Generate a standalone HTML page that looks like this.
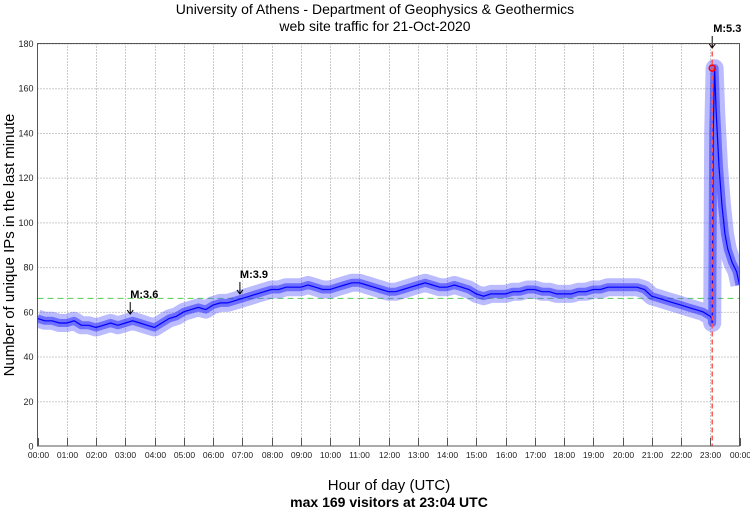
<!DOCTYPE html>
<html><head><meta charset="utf-8"><style>
body{margin:0;background:#fff;}
svg{display:block;font-family:"Liberation Sans",sans-serif;}
</style></head><body>
<svg id="chart" width="750" height="511">
<defs><clipPath id="plotclip"><rect x="37.5" y="43.5" width="702" height="402.5"/></clipPath></defs>
<text x="375" y="14" text-anchor="middle" font-size="14">University of Athens - Department of Geophysics &amp; Geothermics</text>
<text x="375" y="31" text-anchor="middle" font-size="14">web site traffic for 21-Oct-2020</text>
<text x="389" y="490" text-anchor="middle" font-size="15">Hour of day (UTC)</text>
<text x="389" y="507" text-anchor="middle" font-size="14" font-weight="bold">max 169 visitors at 23:04 UTC</text>
<text transform="translate(14,245) rotate(-90)" text-anchor="middle" font-size="15">Number of unique IPs in the last minute</text>
<g id="grid"></g><g id="series" clip-path="url(#plotclip)"></g><g id="marks"></g>
<rect x="37.5" y="43.5" width="702" height="402.5" fill="none" stroke="#555" stroke-width="1"/>
</svg>
<script>
const yTicks=[0,20,40,60,80,100,120,140,160,180];
const xTickLabels=["00:00","01:00","02:00","03:00","04:00","05:00","06:00","07:00","08:00","09:00","10:00","11:00","12:00","13:00","14:00","15:00","16:00","17:00","18:00","19:00","20:00","21:00","22:00","23:00","00:00"];
const times=[0,0.25,0.5,0.75,1,1.25,1.5,1.75,2,2.25,2.5,2.75,3,3.25,3.5,3.75,4,4.25,4.5,4.75,5,5.25,5.5,5.75,6,6.25,6.5,6.75,7,7.25,7.5,7.75,8,8.25,8.5,8.75,9,9.25,9.5,9.75,10,10.25,10.5,10.75,11,11.25,11.5,11.75,12,12.25,12.5,12.75,13,13.25,13.5,13.75,14,14.25,14.5,14.75,15,15.25,15.5,15.75,16,16.25,16.5,16.75,17,17.25,17.5,17.75,18,18.25,18.5,18.75,19,19.25,19.5,19.75,20,20.25,20.5,20.75,21,21.25,21.5,21.75,22,22.25,22.5,22.75,23,23.05,23.067,23.1,23.15,23.2,23.3,23.4,23.5,23.6,23.75,23.9,24];
const visitors=[57,56,56,55,55,56,54,54,53,54,55,54,55,56,55,54,53,55,57,58,60,61,62,61,63,64,64,65,66,67,68,69,70,70,71,71,71,72,71,70,70,71,72,73,73,72,71,70,69,69,70,71,72,73,72,71,71,72,71,70,68,67,68,68,68,69,69,70,70,69,69,68,68,68,69,69,70,70,71,71,71,71,71,70,67,66,65,64,63,62,61,60,58,57,55,140,169,150,125,108,95,88,82,78,72,68,65];
const threshold=66;
const events=[{t:3.17,label:"M:3.6",v:59},{t:6.92,label:"M:3.9",v:68},{t:23.067,label:"M:5.3",v:178}];
const maxTime=23.067,maxVal=169;
const ns="http://www.w3.org/2000/svg";
const X0=37.5,X1=739.5,Y0=446,Y1=43.5;
const xs=t=>X0+(X1-X0)*t/24, ys=v=>Y0-(Y0-Y1)*v/180;
function mk(tag,attrs,parent){const e=document.createElementNS(ns,tag);for(const k in attrs)e.setAttribute(k,attrs[k]);parent.appendChild(e);return e;}
const grid=document.getElementById('grid'),series=document.getElementById('series'),marks=document.getElementById('marks');
yTicks.forEach(v=>{
 const y=ys(v)+0.5;
 if(v>0){const g=mk('line',{x1:X0,x2:X1,y1:y,y2:y,stroke:'#999','stroke-dasharray':'1,2'},grid);
 
 }
 const t=mk('text',{x:X0-4,y:y+3,'text-anchor':'end','font-size':9,fill:'#222'},grid);
 t.textContent=v;
 
 
});
xTickLabels.forEach((l,i)=>{
 const x=Math.round(xs(i))+0.5;
 if(i>0&&i<24){const g=mk('line',{x1:x,x2:x,y1:Y1,y2:Y0,stroke:'#999','stroke-dasharray':'1,2'},grid);
 
 }
 mk('line',{x1:x,x2:x,y1:Y0-8,y2:Y0,stroke:'#555'},grid);
 const t=mk('text',{x:x,y:458,'text-anchor':'middle','font-size':8.5,fill:'#222'},grid);
 t.textContent=l;
 
 
});
const th=mk('line',{x1:X0,x2:X1,y1:ys(threshold),y2:ys(threshold),stroke:'#5c5','stroke-dasharray':'6,4'},series);


const pts=times.map((t,i)=>xs(t).toFixed(1)+','+ys(visitors[i]).toFixed(1)).join(' ');
const band=mk('polyline',{points:pts,fill:'none',stroke:'#5555ff','stroke-width':18,'stroke-linejoin':'round',opacity:0.4},series);


const band2=mk('polyline',{points:pts,fill:'none',stroke:'#2222ff','stroke-width':8,'stroke-linejoin':'round',opacity:0.5},series);


const line=mk('polyline',{points:pts,fill:'none',stroke:'#0000ff','stroke-width':1.2},series);


const vl=mk('line',{x1:xs(maxTime),x2:xs(maxTime),y1:Y1,y2:Y0,stroke:'#f55','stroke-dasharray':'5,3','stroke-width':1.5},marks);


const c=mk('circle',{cx:xs(maxTime),cy:ys(maxVal),r:3,fill:'none',stroke:'#f00','stroke-width':1.5},marks);


events.forEach(ev=>{
 const x=xs(ev.t),y=ys(ev.v);
 mk('line',{x1:x,x2:x,y1:y-12,y2:y,stroke:'#000'},marks);
 mk('path',{d:`M${x-3},${y-4} L${x},${y} L${x+3},${y-4}`,fill:'none',stroke:'#000'},marks);
 const t=mk('text',{x:x+(ev.t>23?1:0),y:y-16,'font-size':11,'font-weight':'bold',fill:'#000'},marks);
 t.textContent=ev.label;
 
 
});
</script>
</body></html>
